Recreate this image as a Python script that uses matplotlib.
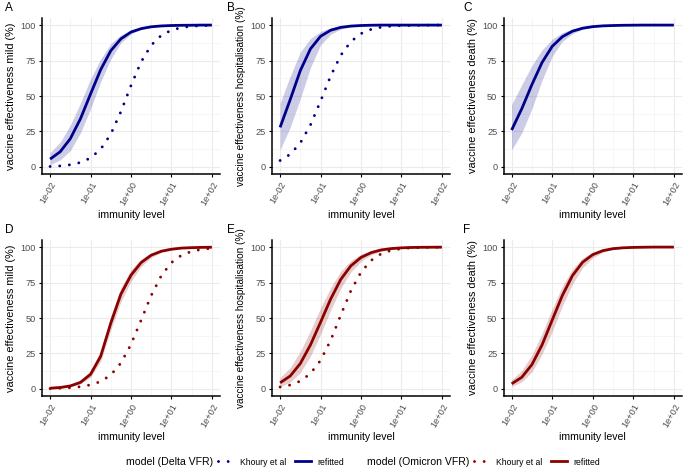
import matplotlib
matplotlib.use('Agg')
import matplotlib.pyplot as plt
from matplotlib.lines import Line2D
from matplotlib.ticker import FixedLocator, NullFormatter

plt.rcParams['font.family'] = ['Liberation Sans', 'DejaVu Sans']

# immunity level grid (quarter decades)
immunity = [0.01, 0.0178, 0.0316, 0.0562, 0.1, 0.178, 0.316, 0.562, 1, 1.78, 3.16,
            5.62, 10, 17.8, 31.6, 56.2, 100]

# Delta - mild
delta_mild_fit = [5.5, 10.7, 19.9, 33.9, 51.4, 68.6, 81.9, 90.3, 95.1, 97.5, 98.8, 99.4, 99.7, 99.85, 99.9, 100, 100]
delta_mild_lo = [1.5, 5, 11.5, 24, 41, 60, 76, 87.5, 93.8, 96.9, 98.5, 99.3, 99.6, 99.8, 99.9, 100, 100]
delta_mild_hi = [10, 17.5, 29.5, 45, 62, 76, 87, 93, 96.4, 98.1, 99.1, 99.6, 99.8, 99.9, 100, 100, 100]
delta_mild_khoury = [0.3, 0.7, 1.5, 3.1, 6.3, 12.5, 23.1, 38.9, 57.4, 74.1, 85.8, 92.8, 96.4, 98.3, 99.2, 99.6, 99.8]

# Delta - hospitalisation
delta_hosp_fit = [27.9, 47.5, 67.9, 83.2, 92.1, 96.4, 98.4, 99.3, 99.7, 99.9, 100, 100, 100, 100, 100, 100, 100]
delta_hosp_lo = [12, 28, 48, 70, 86, 93.5, 97.2, 98.8, 99.5, 99.8, 99.9, 100, 100, 100, 100, 100, 100]
delta_hosp_hi = [45, 64, 81, 90.5, 95.5, 98, 99.2, 99.7, 99.9, 100, 100, 100, 100, 100, 100, 100, 100]
delta_hosp_khoury = [4.5, 8.9, 16.9, 29.5, 46.4, 64.1, 78.7, 88.4, 94, 97, 98.5, 99.3, 99.65, 99.8, 99.9, 100, 100]

# Delta - death
delta_death_fit = [26, 41, 58, 73.6, 85, 91.8, 95.7, 97.8, 98.9, 99.45, 99.7, 99.87, 99.94, 100, 100, 100, 100]
delta_death_lo = [12, 24, 41, 61, 78, 88.5, 94, 97, 98.5, 99.2, 99.6, 99.8, 99.9, 100, 100, 100, 100]
delta_death_hi = [44, 58, 71.5, 82.5, 90, 94.7, 97.3, 98.6, 99.3, 99.7, 99.85, 99.93, 100, 100, 100, 100, 100]

# Omicron - mild
omi_mild_fit = [0.5, 1, 2.1, 4.6, 10.3, 23, 46.3, 66.8, 80.2, 89.1, 94.3, 97.1, 98.5, 99.3, 99.6, 99.8, 99.9]
omi_mild_lo = [0.3, 0.7, 1.5, 3.5, 8.2, 19.5, 41.5, 61.5, 76, 86.3, 92.7, 96.2, 98, 99, 99.4, 99.7, 99.85]
omi_mild_hi = [0.8, 1.5, 2.9, 6.1, 12.8, 27, 51.5, 71.5, 84, 91.5, 95.7, 97.9, 99, 99.5, 99.75, 99.9, 99.95]
omi_mild_khoury = [0.26, 0.47, 0.86, 1.55, 2.85, 5.2, 9.8, 18.2, 31.4, 48.5, 65.9, 79.9, 89.1, 94.3, 97, 98.4, 99.2]

# Omicron - hospitalisation
omi_hosp_fit = [4.3, 9.1, 17.9, 31, 47, 63.4, 77.2, 86.8, 92.7, 96.1, 98, 98.96, 99.47, 99.73, 99.85, 99.9, 99.94]
omi_hosp_lo = [1.5, 4.8, 11.5, 23, 38.5, 55.5, 71, 82.5, 90, 94.5, 97.2, 98.6, 99.3, 99.65, 99.8, 99.9, 99.95]
omi_hosp_hi = [8, 15, 26.5, 41, 57, 71.5, 83, 90.5, 95, 97.5, 98.8, 99.4, 99.7, 99.85, 99.9, 99.95, 100]
omi_hosp_khoury = [1.34, 2.74, 5.5, 10.8, 20.1, 34.3, 52, 69.2, 82.3, 90.6, 95.3, 97.7, 98.9, 99.45, 99.73, 99.87, 99.94]

# Omicron - death
omi_death_fit = [3.6, 8.2, 17.1, 31, 48.5, 65.9, 79.9, 89.3, 94.7, 97.5, 98.9, 99.5, 99.78, 99.9, 100, 100, 100]
omi_death_lo = [1.7, 5, 12, 24.5, 40.5, 58.5, 74, 85.5, 92.5, 96.3, 98.3, 99.2, 99.6, 99.8, 99.9, 100, 100]
omi_death_hi = [6.5, 13, 24, 39, 56.5, 72.5, 84.5, 92.3, 96.3, 98.3, 99.3, 99.7, 99.9, 100, 100, 100, 100]

x_ticks = [0.01, 0.1, 1, 10, 100]
x_tick_labels = ['1e-02', '1e-01', '1e+00', '1e+01', '1e+02']
x_minor = [0.0316, 0.316, 3.16, 31.6]
y_ticks = [0, 25, 50, 75, 100]
y_minor = [12.5, 37.5, 62.5, 87.5]

blue = '#00008B'
red = '#8B0000'
dot_style = (0, (0.01, 3.3))

W, H = 684, 473
fig = plt.figure(figsize=(W / 100, H / 100), dpi=100)


def px_axes(left, top, right, bottom):
    return fig.add_axes([left / W, 1 - bottom / H, (right - left) / W, (bottom - top) / H])


def draw_panel(ax, fit, lo, hi, khoury, color, ylab):
    ax.fill_between(immunity, lo, hi, color=color, alpha=0.2, linewidth=0)
    if khoury is not None:
        ax.plot(immunity, khoury, color=color, linestyle=dot_style, linewidth=2.1,
                dash_capstyle='round')
    ax.plot(immunity, fit, color=color, linewidth=2.0, solid_capstyle='butt',
            solid_joinstyle='round')
    ax.set_xscale('log')
    ax.set_xlim(10 ** -2.2, 10 ** 2.2)
    ax.set_ylim(-5, 105)
    ax.xaxis.set_major_locator(FixedLocator(x_ticks))
    ax.xaxis.set_minor_locator(FixedLocator(x_minor))
    ax.xaxis.set_minor_formatter(NullFormatter())
    ax.set_xticklabels(x_tick_labels, rotation=60, ha='right', rotation_mode='anchor')
    ax.set_yticks(y_ticks)
    ax.yaxis.set_minor_locator(FixedLocator(y_minor))
    ax.grid(which='major', color='#EBEBEB', linewidth=0.8)
    ax.grid(which='minor', color='#F3F3F3', linewidth=0.5)
    ax.set_axisbelow(True)
    ax.tick_params(which='major', labelsize=6.6, labelcolor='#4D4D4D', length=2.5, width=0.8, pad=2)
    ax.tick_params(which='minor', length=0)
    for s in ['top', 'right']:
        ax.spines[s].set_visible(False)
    for s in ['left', 'bottom']:
        ax.spines[s].set_linewidth(1.1)
        ax.spines[s].set_color('black')
    ax.set_xlabel('immunity level', fontsize=7.6, labelpad=2)
    # long hospitalisation label would run off the top of the figure
    ysize = 7.2 if len(ylab) > 35 else 7.8
    ax.set_ylabel(ylab, fontsize=ysize, labelpad=3)


cols = [(42, 220), (272, 450), (503.5, 682)]
rows = [(18, 174), (240, 396)]

panels = [
    (delta_mild_fit, delta_mild_lo, delta_mild_hi, delta_mild_khoury, blue, 'vaccine effectiveness mild (%)'),
    (delta_hosp_fit, delta_hosp_lo, delta_hosp_hi, delta_hosp_khoury, blue, 'vaccine effectiveness hospitalisation (%)'),
    (delta_death_fit, delta_death_lo, delta_death_hi, None, blue, 'vaccine effectiveness death (%)'),
    (omi_mild_fit, omi_mild_lo, omi_mild_hi, omi_mild_khoury, red, 'vaccine effectiveness mild (%)'),
    (omi_hosp_fit, omi_hosp_lo, omi_hosp_hi, omi_hosp_khoury, red, 'vaccine effectiveness hospitalisation (%)'),
    (omi_death_fit, omi_death_lo, omi_death_hi, None, red, 'vaccine effectiveness death (%)'),
]
tags = ['A', 'B', 'C', 'D', 'E', 'F']
tag_x = [5, 227, 463, 5, 227, 463]

for i in range(6):
    r = rows[i // 3]
    c = cols[i % 3]
    ax = px_axes(c[0], r[0], c[1], r[1])
    draw_panel(ax, *panels[i])
    fig.text(tag_x[i] / W, 1 - (r[0] - 10) / H, tags[i], fontsize=8.5, va='center', ha='left')

# legends
leg_y = 1 - 462 / H
for title, tx, lx, color in [('model (Delta VFR)', 126, 218, blue), ('model (Omicron VFR)', 367, 474, red)]:
    fig.text(tx / W, leg_y, title, fontsize=7.6, va='center', ha='left')
    handles = [Line2D([], [], color=color, linestyle=dot_style, linewidth=2.1, dash_capstyle='round'),
               Line2D([], [], color=color, linewidth=2.0)]
    leg = fig.legend(handles, ['Khoury et al', 'refitted'], loc='center left',
                     bbox_to_anchor=(lx / W, leg_y), ncol=2, frameon=False, fontsize=6.2,
                     handlelength=1.8, handletextpad=0.8, columnspacing=1.0, borderaxespad=0,
                     borderpad=0)

fig.savefig('out.png', dpi=100)
